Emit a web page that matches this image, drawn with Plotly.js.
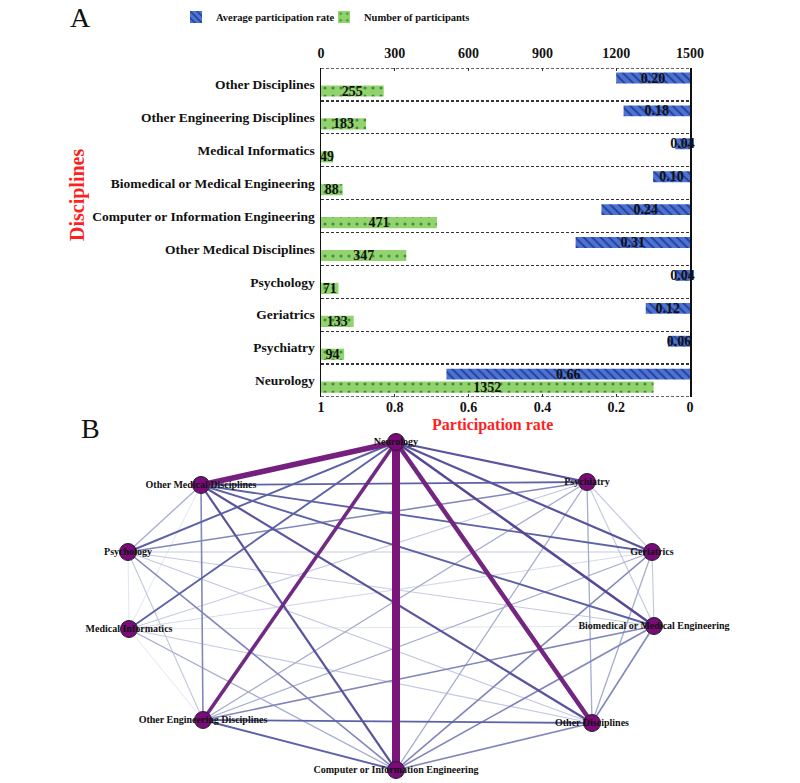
<!DOCTYPE html>
<html><head><meta charset="utf-8">
<script src="https://cdn.plot.ly/plotly-3.0.1.min.js"></script>
<style>html,body{margin:0;padding:0;background:#fff}#chart{width:800px;height:783px}</style>
</head><body><div id="chart"></div>
<script>
// ---------- Panel A data ----------
const categories = ['Other Disciplines','Other Engineering Disciplines','Medical Informatics','Biomedical or Medical Engineering','Computer or Information Engineering','Other Medical Disciplines','Psychology','Geriatrics','Psychiatry','Neurology'];
const avgRate = [0.20,0.18,0.04,0.10,0.24,0.31,0.04,0.12,0.06,0.66];
const participants = [255,183,49,88,471,347,71,133,94,1352];
const rateTicks = [1,0.8,0.6,0.4,0.2,0];
const rateTickText = ['1','0.8','0.6','0.4','0.2','0'];
const countTicks = [0,300,600,900,1200,1500];

// ---------- Panel B data ----------
const nodeNames = ['Neurology','Psychiatry','Geriatrics','Biomedical or Medical Engineering','Other Disciplines','Computer or Information Engineering','Other Engineering Disciplines','Medical Informatics','Psychology','Other Medical Disciplines'];
const nodeX = [396,587,652,654,592,396,203,129,128,201];
const nodeY = [442,482,552,626,723,770,720,629,552,485];
const edgeFrom   = [0,0,0,0,0,0,0,0,0, 9,9,9,9,9,9,9,9, 8,8,8,8,8,8,8, 7,7,7,7,7,7, 6,6,6,6,6, 5,5,5,5, 4,4,4, 3,3, 2];
const edgeTo     = [5,9,4,6,3,2,1,8,7, 1,2,3,4,5,6,8,7, 1,2,3,4,5,6,7, 1,2,3,4,5,6, 4,5,3,2,1, 4,3,2,1, 3,2,1, 2,1, 1];
const edgeWeight = [10,8,7,6,4,3.5,3.5,3,3, 3,3,3,3.5,3.5,2.5,2,1, 2.5,1.5,1.5,1.5,2.5,1.5,1, 1.5,1.2,1,1.5,2,1, 3,3,2.5,2,2, 2.5,2.5,2.5,2, 2.5,2,2, 1.5,1.5, 1.5];

const serif = 'Liberation Serif, Times New Roman, serif';
const W = 800, H = 783;
const px = v => v / W;
const py = v => 1 - v / H;

function lerp(a,b,t){return a+(b-a)*t;}
const colorStops = [[1,[226,230,240]],[2,[165,172,208]],[3,[92,98,165]],[4,[88,70,150]],[6,[112,42,130]],[10,[122,22,122]]];
const widthStops = [[1,1],[2,1.3],[3,1.9],[4,2.5],[6,3.6],[7,4.5],[8,5.5],[10,8]];
function interp(stops,w){
  for(let i=0;i<stops.length-1;i++){
    const [w0,v0]=stops[i],[w1,v1]=stops[i+1];
    if(w<=w1){const t=(w-w0)/(w1-w0); return Array.isArray(v0)? v0.map((c,k)=>Math.round(lerp(c,v1[k],t))) : lerp(v0,v1,t);}
  }
  return stops[stops.length-1][1];
}

const barText = {family:serif,size:14,weight:'bold',color:'#111'};
const traces = [];
traces.push({
  type:'bar', orientation:'h', name:'Average participation rate',
  y: categories, x: avgRate, xaxis:'x', yaxis:'y',
  offset:-0.36, width:0.33,
  marker:{color:'#4a6fd2', pattern:{shape:'\\', fgcolor:'#263c8a', bgcolor:'#4b72d6', size:6, solidity:0.3}, line:{width:0}},
  texttemplate:'%{x:.2f}', textposition:'inside', insidetextanchor:'middle', textangle:0, constraintext:'none',
  textfont:barText, insidetextfont:barText,
  cliponaxis:false, hoverinfo:'skip'
});
traces.push({
  type:'bar', orientation:'h', name:'Number of participants',
  y: categories, x: participants, xaxis:'x2', yaxis:'y',
  offset:0.03, width:0.34,
  marker:{color:'#93d36e', pattern:{shape:'.', fgcolor:'#3f8f3a', bgcolor:'#93d36e', size:8, solidity:0.12}, line:{width:0}},
  texttemplate:'%{x}', textposition:'inside', insidetextanchor:'middle', textangle:0, constraintext:'none',
  textfont:barText, insidetextfont:barText,
  cliponaxis:false, hoverinfo:'skip'
});

// edges sorted by weight so heavier lines on top
const order = edgeWeight.map((w,i)=>i).sort((a,b)=>edgeWeight[a]-edgeWeight[b]);
order.forEach(i=>{
  const a=edgeFrom[i], b=edgeTo[i], w=edgeWeight[i];
  const c=interp(colorStops,w);
  traces.push({type:'scatter', mode:'lines', x:[nodeX[a],nodeX[b]], y:[nodeY[a],nodeY[b]], xaxis:'x3', yaxis:'y3',
    line:{color:`rgb(${c[0]},${c[1]},${c[2]})`, width:interp(widthStops,w)}, showlegend:false, hoverinfo:'skip', cliponaxis:false});
});
traces.push({type:'scatter', mode:'markers+text', x:nodeX, y:nodeY, text:nodeNames, textposition:'middle center', xaxis:'x3', yaxis:'y3',
  marker:{size:17, color:'#7b0a7b', line:{color:'#222', width:1}},
  textfont:{family:serif,size:10,weight:'bold',color:'#111'}, showlegend:false, hoverinfo:'skip', cliponaxis:false});

const tickFont = {family:serif,size:14,weight:'bold',color:'#111'};
const dotLine = {color:'#333', width:1.3, dash:'3px,2px'};
const layout = {
  width:W, height:H, margin:{l:0,r:0,t:0,b:0}, paper_bgcolor:'#fff', plot_bgcolor:'rgba(0,0,0,0)',
  barmode:'overlay', showlegend:true,
  legend:{orientation:'h', x:px(176), y:py(17), xanchor:'left', yanchor:'middle', entrywidth:103, font:{family:serif,size:10.5,weight:'bold',color:'#111'}, bgcolor:'rgba(0,0,0,0)'},
  xaxis:{domain:[px(321),px(690)], anchor:'y', range:[1,0], tickvals:rateTicks, ticktext:rateTickText, tickfont:tickFont,
    ticks:'inside', ticklen:3, tickcolor:'#333', showgrid:false, zeroline:false, showline:false, automargin:false, fixedrange:true},
  xaxis2:{overlaying:'x', side:'top', anchor:'y', range:[0,1500], tickvals:countTicks, tickfont:tickFont,
    ticks:'inside', ticklen:3, tickcolor:'#333', showgrid:false, zeroline:false, showline:false, automargin:false, ticklabelstandoff:6, fixedrange:true},
  yaxis:{domain:[py(397),py(68)], anchor:'x', type:'category', categoryorder:'array', categoryarray:categories, range:[9.5,-0.5],
    tickson:'boundaries', showgrid:true, gridcolor:'#333', griddash:'3px,2px', gridwidth:1.3,
    showline:true, mirror:true, linecolor:'#111', linewidth:1.5, ticks:'', ticklabelstandoff:2, automargin:false,
    tickfont:{family:serif,size:13.5,weight:'bold',color:'#111'}},
  xaxis3:{domain:[0,1], anchor:'y3', range:[0,800], visible:false, fixedrange:true},
  yaxis3:{domain:[0,py(420)], anchor:'x3', range:[783,420], visible:false, fixedrange:true},
  shapes:[
    {type:'line', xref:'x domain', yref:'y', x0:0, x1:1, y0:-0.5, y1:-0.5, line:dotLine, layer:'above'},
    {type:'line', xref:'x domain', yref:'y', x0:0, x1:1, y0:9.5, y1:9.5, line:dotLine, layer:'above'}
  ],
  annotations:[
    {text:'A', x:px(80), y:py(17), xref:'paper', yref:'paper', xanchor:'center', yanchor:'middle', showarrow:false, font:{family:serif,size:28,color:'#111'}},
    {text:'B', x:px(90), y:py(428), xref:'paper', yref:'paper', xanchor:'center', yanchor:'middle', showarrow:false, font:{family:serif,size:28,color:'#111'}},
    {text:'Participation rate', x:px(492), y:py(425), xref:'paper', yref:'paper', xanchor:'center', yanchor:'middle', showarrow:false, font:{family:serif,size:16,weight:'bold',color:'#ff1f1f'}},
    {text:'Disciplines', x:px(77), y:py(195), xref:'paper', yref:'paper', xanchor:'center', yanchor:'middle', textangle:-90, showarrow:false, font:{family:serif,size:20,weight:'bold',color:'#ff1f1f'}}
  ]
};
Plotly.newPlot('chart', traces, layout, {displayModeBar:false, staticPlot:true});
</script></body></html>
